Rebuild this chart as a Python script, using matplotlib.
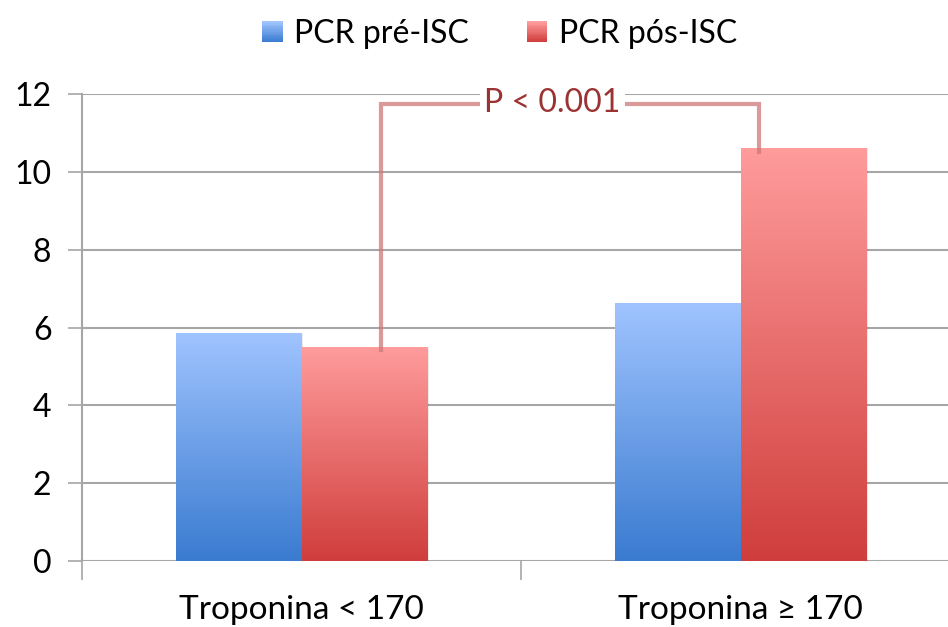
import numpy as np
import matplotlib
matplotlib.use("Agg")
import matplotlib.pyplot as plt
from matplotlib.colors import LinearSegmentedColormap
from matplotlib.patches import Rectangle, Patch
from matplotlib.legend_handler import HandlerPatch

categories = ["Troponina < 170", "Troponina \u2265 170"]
series_names = ["PCR pré-ISC", "PCR pós-ISC"]
pre_values = [5.86, 6.63]
post_values = [5.50, 10.62]
y_ticks = [0, 2, 4, 6, 8, 10, 12]
p_label = "P < 0.001"
bracket_top = 11.75
bracket_ends = [5.42, 10.5]

plt.rcParams['font.family'] = ['Lato', 'DejaVu Sans']

fig = plt.figure(figsize=(9.48, 6.27), dpi=100)
ax = fig.add_axes([82/948, 1-561/627, 878/948, (561-94)/627])

x = np.arange(len(categories))
w = 0.287
grad_colors = [("#a0c4ff", "#3a7bd0"), ("#ff9c9c", "#cf3e3c")]
grid_col = "#a6a6a6"

for t in y_ticks:
    ax.axhline(t, color=grid_col, lw=1.5, zorder=0)

grad = np.linspace(1, 0, 256).reshape(-1, 1)
cmaps = []
for si, vals in enumerate([pre_values, post_values]):
    offs = -w/2 if si == 0 else w/2
    bars = ax.bar(x + offs, vals, width=w, color="none", edgecolor="none", zorder=2)
    cmap = LinearSegmentedColormap.from_list("g%d" % si, [grad_colors[si][1], grad_colors[si][0]])
    cmaps.append(cmap)
    for b in bars:
        x0, y0 = b.get_x(), b.get_y()
        bw, bh = b.get_width(), b.get_height()
        sh = Rectangle((x0 + 0.004, y0), bw, bh - 0.02, facecolor="#000000", alpha=0.08, zorder=1.5, lw=0)
        ax.add_patch(sh)
        im = ax.imshow(grad, extent=[x0, x0 + bw, y0, y0 + bh], cmap=cmap, vmin=0, vmax=1,
                       aspect="auto", zorder=2, interpolation="bilinear")
        im.set_clip_path(b)

# bracket
bx1 = x[0] + w/2 + 0.037
bx2 = x[1] + w/2 - 0.101
ax.plot([bx1, bx1, bx2, bx2], [bracket_ends[0], bracket_top, bracket_top, bracket_ends[1]],
        color="#d07878", alpha=0.75, lw=3, zorder=3, solid_joinstyle="miter")
ax.text((bx1 + bx2) / 2 - 0.04, bracket_top + 0.02, p_label, ha="center", va="center",
        fontsize=23, color="#9b3333", zorder=4,
        bbox=dict(facecolor="white", edgecolor="none", pad=3))

ax.set_xlim(-0.5, 1.5)
ax.set_ylim(0, 12)
ax.set_yticks(y_ticks)
ax.set_yticklabels([str(t) for t in y_ticks], fontsize=23)
ax.set_xticks([-0.5, 0.5, 1.5])
ax.set_xticklabels(["", "", ""])
for i, c in enumerate(categories):
    ax.text(x[i], -0.105, c, transform=ax.get_xaxis_transform(), ha="center", va="center", fontsize=24)
ax.tick_params(axis="y", length=10, width=1.2, color=grid_col, pad=12)
ax.tick_params(axis="x", length=14, width=1.2, color=grid_col)
for s in ["top", "right", "bottom"]:
    ax.spines[s].set_visible(False)
ax.spines["left"].set_color(grid_col)
ax.spines["left"].set_linewidth(1.5)
ax.set_facecolor("white")


class GradHandler(HandlerPatch):
    def __init__(self, cmap):
        super().__init__()
        self.cmap = cmap

    def create_artists(self, legend, orig_handle, xdescent, ydescent, width, height, fontsize, trans):
        arts = []
        n = 12
        for k in range(n):
            r = Rectangle((-xdescent, -ydescent + height * k / n), width, height / n + 0.3,
                          facecolor=self.cmap(k / (n - 1)), edgecolor="none", transform=trans)
            arts.append(r)
        return arts


handles = [Patch(facecolor=grad_colors[0][1]), Patch(facecolor=grad_colors[1][1])]
fig.legend(handles, series_names, loc="center", bbox_to_anchor=(0.527, 1 - 34/627), ncol=2,
           frameon=False, fontsize=23, handlelength=0.65, handleheight=0.65, columnspacing=1.8,
           handletextpad=0.35,
           handler_map={handles[0]: GradHandler(cmaps[0]), handles[1]: GradHandler(cmaps[1])})

fig.savefig("out.png", dpi=100)
